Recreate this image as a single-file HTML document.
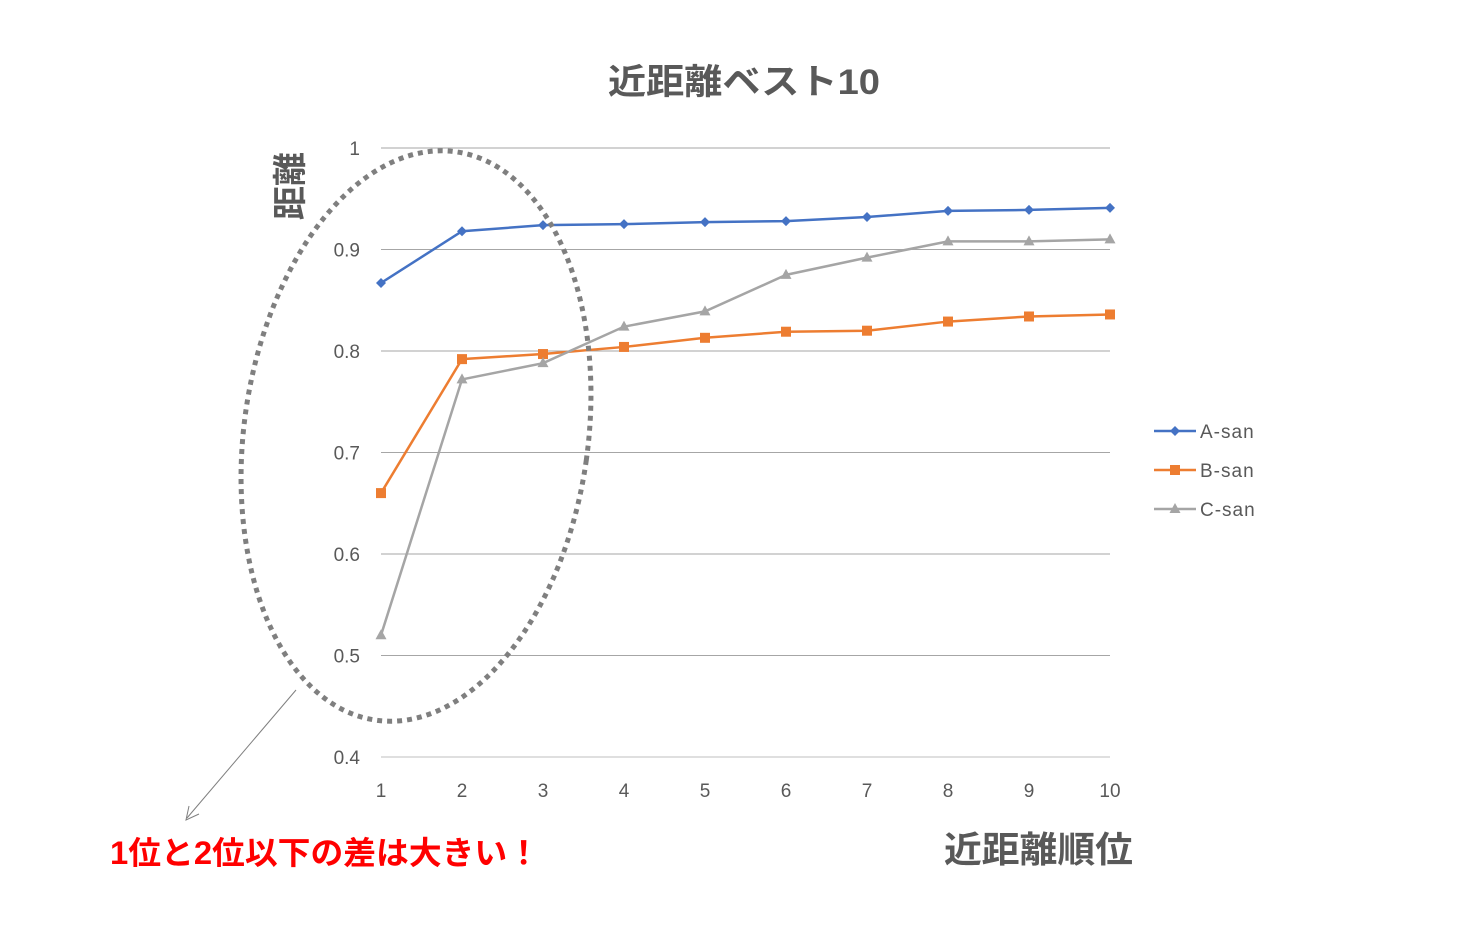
<!DOCTYPE html>
<html><head><meta charset="utf-8"><style>
body{margin:0;background:#fff;}
svg{display:block;font-family:"Liberation Sans","Noto Sans CJK JP",sans-serif;}
</style></head><body>
<svg width="1461" height="926" viewBox="0 0 1461 926">
<text x="608" y="94" textLength="272" lengthAdjust="spacingAndGlyphs" font-size="35" font-weight="bold" fill="#595959">近距離ベスト10</text>
<g id="grid"></g>
<g id="yt"></g>
<g id="xt"></g>
<g id="series"></g>
<text transform="translate(302,186) rotate(-90)" text-anchor="middle" font-size="34" font-weight="bold" fill="#595959">距離</text>
<text x="944" y="862" textLength="189" lengthAdjust="spacingAndGlyphs" font-size="36" font-weight="bold" fill="#595959">近距離順位</text>
<g id="legend"></g>
<ellipse cx="416" cy="436" rx="172" ry="287" transform="rotate(8 416 436)" fill="none" stroke="#7f7f7f" stroke-width="5" stroke-dasharray="5 5"/>
<line x1="296" y1="690" x2="187" y2="818" stroke="#7f7f7f" stroke-width="1"/>
<polyline points="189,806 186,820 199,814" fill="none" stroke="#7f7f7f" stroke-width="1"/>
<text x="110" y="864" textLength="430" lengthAdjust="spacingAndGlyphs" font-size="32" font-weight="bold" fill="#ff0000">1位と2位以下の差は大きい！</text>
</svg>
<script>
const categories=[1,2,3,4,5,6,7,8,9,10];
const yTicks=[0.4,0.5,0.6,0.7,0.8,0.9,1];
const seriesNames=["A-san","B-san","C-san"];
const aValues=[0.867,0.918,0.924,0.925,0.927,0.928,0.932,0.938,0.939,0.941];
const bValues=[0.660,0.792,0.797,0.804,0.813,0.819,0.820,0.829,0.834,0.836];
const cValues=[0.520,0.772,0.788,0.824,0.839,0.875,0.892,0.908,0.908,0.910];
const NS="http://www.w3.org/2000/svg";
const x=i=>381+(i-1)*81;
const y=v=>757-(v-0.4)/0.6*609;
function mk(t,a,p){const e=document.createElementNS(NS,t);for(const k in a)e.setAttribute(k,a[k]);document.getElementById(p).appendChild(e);return e;}
yTicks.forEach(v=>{
 const l=mk('line',{x1:381,x2:1110,y1:y(v),y2:y(v),stroke:v==0.4?'#bfbfbf':'#a6a6a6','stroke-width':1},'grid');
 
 
 const t=mk('text',{x:360,y:y(v)+7,'text-anchor':'end','font-size':19,fill:'#595959'},'yt');t.textContent=String(v);
 
 
});
categories.forEach(c=>{
 const t=mk('text',{x:x(c),y:797,'text-anchor':'middle','font-size':19,fill:'#595959'},'xt');t.textContent=c;
 
 
});
const colors=['#4472c4','#ed7d31','#a5a5a5'];
const data=[aValues,bValues,cValues];
function marker(k,cx,cy,p){
 let e;
 if(k==0)e=mk('polygon',{points:`${cx},${cy-5} ${cx+5},${cy} ${cx},${cy+5} ${cx-5},${cy}`,fill:colors[0]},p);
 else if(k==1)e=mk('rect',{x:cx-5,y:cy-5,width:10,height:10,fill:colors[1]},p);
 else e=mk('polygon',{points:`${cx},${cy-6} ${cx+5.5},${cy+4} ${cx-5.5},${cy+4}`,fill:colors[2]},p);
 return e;
}
data.forEach((vals,k)=>{
 const pl=mk('polyline',{points:vals.map((v,i)=>x(categories[i])+','+y(v)).join(' '),fill:'none',stroke:colors[k],'stroke-width':2.5},'series');
 
 
 vals.forEach((v,i)=>{const m=marker(k,x(categories[i]),y(v),'series');
  
  });
});
seriesNames.forEach((n,k)=>{
 const yy=431+k*39;
 const l=mk('line',{x1:1154,x2:1196,y1:yy,y2:yy,stroke:colors[k],'stroke-width':2.5},'legend');
 
 
 const m=marker(k,1175,yy,'legend');
 
 
 const t=mk('text',{x:1200,y:yy+7,'font-size':19,fill:'#595959','letter-spacing':1},'legend');t.textContent=n;
 
 
});
</script>
</body></html>
